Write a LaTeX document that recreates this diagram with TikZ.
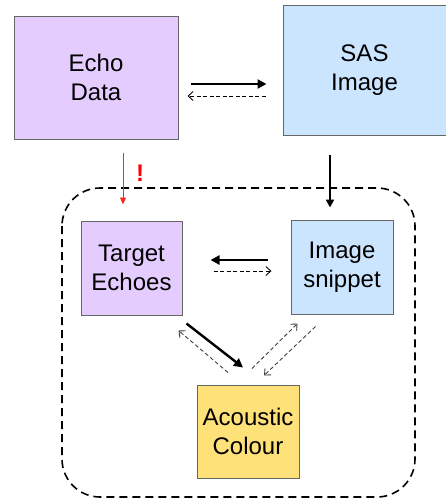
\documentclass[tikz,border=0pt]{standalone}
\usepackage{fontspec}
\setmainfont{Liberation Sans}
\usetikzlibrary{calc, arrows.meta}

\definecolor{lilac}{HTML}{E5CCFF}
\definecolor{skyblue}{HTML}{CCE5FF}
\definecolor{sand}{HTML}{FFE17A}

\begin{document}
\begin{tikzpicture}[x=1pt, y=-1pt,
  box/.style={draw=black!60, line width=1pt, align=center, inner sep=0pt,
    font=\fontsize{24}{29}\selectfont},
  solidarr/.style={line width=2.4pt, -{Triangle[length=9pt, width=9pt]}},
  backarr/.style={line width=0.9pt, dash pattern=on 4pt off 2.5pt,
    -{Straight Barb[length=5pt, width=9pt]}},
  faintarr/.style={backarr, black!75}]
  \useasboundingbox (0,0) rectangle (446,499);

  % upper row
  \node[box, fill=lilac, minimum width=164pt, minimum height=123pt] (echo) at (96,77.5) {Echo\\Data};
  \node[box, fill=skyblue, minimum width=163pt, minimum height=130pt] (sas) at (364.5,70) {SAS\\Image};

  % dashed frame
  \draw[line width=1.6pt, dash pattern=on 8pt off 5pt, rounded corners=38pt]
    (62,188) rectangle (415,497);

  % lower row
  \node[box, fill=lilac, minimum width=101pt, minimum height=94pt] (te) at (131.5,268) {Target\\Echoes};
  \node[box, fill=skyblue, minimum width=102pt, minimum height=94pt] (is) at (342,267) {Image\\snippet};
  \node[box, fill=sand, minimum width=102pt, minimum height=93pt] (ac) at (248,431.5) {Acoustic\\Colour};

  \draw[solidarr] ($(echo.east)+(12,6.5)$) -- ($(sas.west)+(-16,14)$);
  \draw[backarr] ($(sas.west)+(-17,26)$) -- ($(echo.east)+(9,18.5)$);

  \draw[red!85, line width=0.9pt, -{Triangle[length=7pt, width=6pt]}]
    ($(echo.south)+(27,13)$) -- ($(te.north)+(-8.5,-16)$);
  \node[red, font=\bfseries\fontsize{24}{24}\selectfont] (warn) at (140,173) {!};
  \draw[line width=2pt, -{Triangle[length=8pt, width=8pt]}]
    ($(sas.south)+(-34.5,19)$) -- ($(is.north)+(-12,-12)$);

  \draw[solidarr] ($(is.west)+(-23,-7)$) -- ($(te.east)+(28,-8)$);
  \draw[backarr] ($(te.east)+(31,3)$) -- ($(is.west)+(-19,4)$);

  \draw[solidarr] ($(te.south east)+(4,8)$) -- ($(ac.north)+(-5,-17)$);
  \draw[faintarr] ($(ac.north)+(-20,-12)$) -- ($(te.south east)+(-4,15)$);
  \draw[faintarr] ($(ac.north)+(4,-16)$) -- ($(is.south west)+(7,9)$);
  \draw[faintarr] ($(is.south west)+(25,12)$) -- ($(ac.north)+(16,-9)$);
\end{tikzpicture}
\end{document}
